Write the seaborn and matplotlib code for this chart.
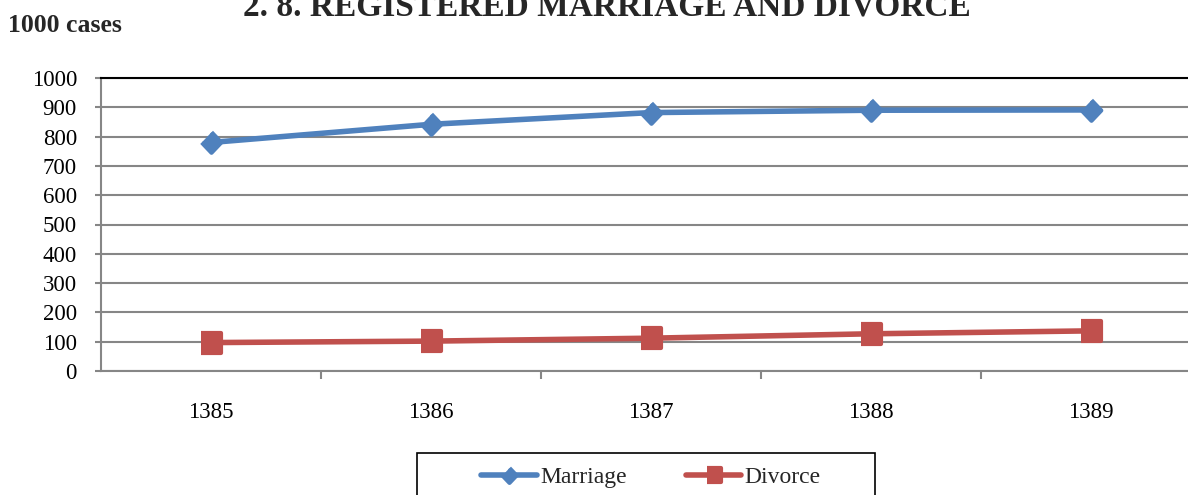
import pandas as pd
import numpy as np
import matplotlib.pyplot as plt
import seaborn as sns
from matplotlib.patches import Rectangle

# data (1000 cases)
years = ["1385", "1386", "1387", "1388", "1389"]
marriage = [780, 842, 882, 890, 891]
divorce = [97, 102, 112, 127, 137]
y_ticks = list(range(0, 1001, 100))

BLUE = "#4F81BD"
RED = "#C0504D"
GRID = "#868686"

df = pd.DataFrame({
    "year": years * 2,
    "value": marriage + divorce,
    "series": ["Marriage"] * len(years) + ["Divorce"] * len(years),
})

sns.set_theme(style="white")
plt.rcParams["font.family"] = ["Liberation Serif", "DejaVu Serif"]

fig = plt.figure(figsize=(11.88, 4.95), dpi=100)
ax = fig.add_axes([101 / 1188, 1 - 371 / 495, 1100 / 1188, 293 / 495])

diamond = [(0, 1), (0.95, 0), (0, -1), (-0.95, 0)]
rect = [(-0.95, -1), (0.95, -1), (0.95, 1), (-0.95, 1)]

sns.pointplot(data=df, x="year", y="value", hue="series",
              palette={"Marriage": BLUE, "Divorce": RED},
              markers=[diamond, rect], markersize=14.8, linewidth=4.0,
              errorbar=None, ax=ax)

ax.set_xlim(-0.5, len(years) - 0.5)
ax.set_ylim(0, 1000)
ax.set_yticks(y_ticks)
ax.set_yticklabels([str(t) for t in y_ticks], fontsize=16.5)
ax.set_xticks(range(len(years)))
ax.set_xticklabels(years, fontsize=16.5)
ax.set_xticks(np.arange(0.5, len(years) - 1, 1.0), minor=True)
ax.tick_params(axis="x", which="major", length=0, pad=22, colors="black")
ax.tick_params(axis="x", which="minor", length=6, width=1.5, color=GRID,
               direction="out", bottom=True)
ax.tick_params(axis="y", length=4.3, width=1.5, color=GRID, direction="out",
               left=True, pad=13, labelcolor="black")
ax.set_xlabel("")
ax.set_ylabel("")

ax.yaxis.grid(True, color=GRID, linewidth=1.5)
ax.set_axisbelow(True)
for s in ["left", "bottom"]:
    ax.spines[s].set_color(GRID)
    ax.spines[s].set_linewidth(1.5)
ax.spines["top"].set_color("black")
ax.spines["top"].set_linewidth(1.5)
ax.spines["right"].set_visible(False)

handles, labels = ax.get_legend_handles_labels()
ax.get_legend().remove()
leg = ax.legend(handles, labels, loc="center", bbox_to_anchor=(0.5, -0.362),
                ncol=2, frameon=False, fontsize=17, handlelength=2.35,
                handletextpad=0.15, columnspacing=2.5, markerscale=0.72)
for h in leg.legend_handles:
    h.set_linewidth(4.0)

fig.patches.append(Rectangle((417 / 1188, 1 - 505 / 495), 458 / 1188, 52 / 495,
                             transform=fig.transFigure, fill=False,
                             edgecolor="black", linewidth=1.2))

fig.text(607 / 1188, 1 - 15 / 495, "2. 8. REGISTERED MARRIAGE AND DIVORCE",
         ha="center", va="baseline", fontsize=24, fontweight="bold")
fig.text(8 / 1188, 1 - 32 / 495, "1000 cases", ha="left", va="baseline",
         fontsize=18.5, fontweight="bold")

fig.savefig("out.png", dpi=100)
